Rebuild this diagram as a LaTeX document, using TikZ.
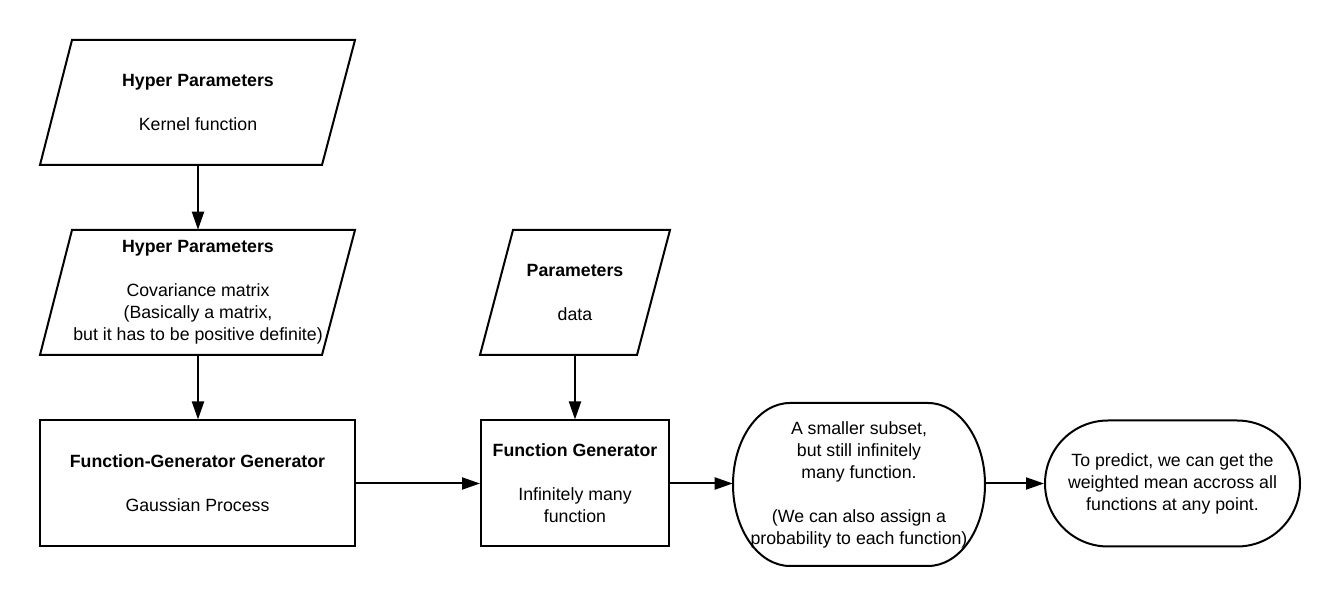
\documentclass[tikz,border=0pt]{standalone}
\usepackage{fontspec}
\setmainfont{Liberation Sans}
\usetikzlibrary{arrows.meta}
\tikzset{
  outline/.style={draw, line width=1.5pt},
  txt/.style={align=center, font=\fontsize{13.3}{16.5}\selectfont, inner sep=0pt},
  arr/.style={-{Triangle[length=13.5pt,width=9pt]}, line width=1.5pt},
}
\begin{document}
\begin{tikzpicture}[x=0.75pt,y=-0.75pt]
\useasboundingbox (0,0) rectangle (1340,605);
% parallelograms
\draw[outline] (72,40) -- (355,40) -- (322,165) -- (40,165) -- cycle;
\node[txt, minimum height=93.75pt] (hp1) at (198,102.5) {\textbf{Hyper Parameters}\\[16.5pt]Kernel function};
\draw[outline] (72,230) -- (355,230) -- (322,355) -- (40,355) -- cycle;
\node[txt, minimum height=93.75pt] (hp2) at (198,292.5) {\textbf{Hyper Parameters}\\[16.5pt]Covariance matrix\\(Basically a matrix,\\but it has to be positive definite)};
\draw[outline] (513,230) -- (670,230) -- (637,355) -- (480,355) -- cycle;
\node[txt, minimum height=93.75pt] (par) at (575,292.5) {\textbf{Parameters}\\[16.5pt]data};
% rectangles
\node[txt, outline, minimum width=236.25pt, minimum height=94.5pt] (fgg) at (197.5,483.5) {\textbf{Function-Generator Generator}\\[16.5pt]Gaussian Process};
\node[txt, outline, minimum width=141pt, minimum height=94.5pt] (fg) at (575,483.5) {\textbf{Function Generator}\\[16.5pt]Infinitely many\\function};
% terminators
\draw[outline] (790,403) -- (928,403) arc[start angle=-90,end angle=90,x radius=57,y radius=81.5] -- (790,566) arc[start angle=90,end angle=270,x radius=57,y radius=81.5] -- cycle;
\node[txt, minimum width=189pt, minimum height=122.25pt] (s1) at (859,484.5) {A smaller subset,\\but still infinitely\\many function.\\[16.5pt](We can also assign a\\probability to each function)};
\node[txt, outline, rounded corners=47.25pt, minimum width=191.25pt, minimum height=94.5pt] (s2) at (1172.5,483.5) {To predict, we can get the\\weighted mean accross all\\functions at any point.};
% connectors
\draw[arr] (hp1.south) -- (hp2.north);
\draw[arr] (hp2.south) -- (hp2.south |- fgg.north);
\draw[arr] (par.south) -- (fg.north);
\draw[arr] (fgg.east) -- (fg.west);
\draw[arr] (fg.east) -- (fg.east -| s1.west);
\draw[arr] (s1.east |- s2.west) -- (s2.west);
\end{tikzpicture}
\end{document}
